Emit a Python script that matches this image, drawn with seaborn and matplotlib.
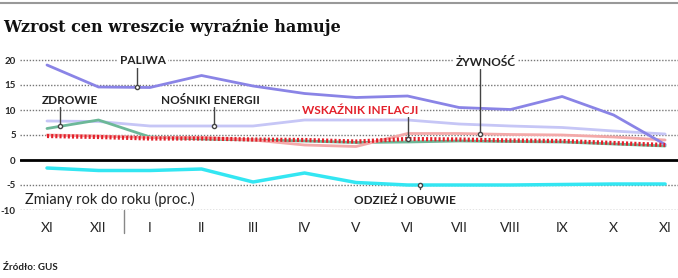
import numpy as np
import pandas as pd
import matplotlib.pyplot as plt
import seaborn as sns

# data (year-on-year change, %)
months = ["XI", "XII", "I", "II", "III", "IV", "V", "VI", "VII", "VIII", "IX", "X", "XI"]
paliwa = [19.0, 14.6, 14.5, 16.9, 14.8, 13.3, 12.5, 12.8, 10.5, 10.1, 12.7, 9.0, 3.1]
nosniki = [7.8, 7.7, 6.8, 6.8, 6.8, 8.0, 8.0, 8.0, 7.2, 6.8, 6.5, 5.8, 5.2]
zdrowie = [6.3, 8.0, 4.6, 4.2, 4.0, 3.8, 3.5, 3.6, 3.8, 3.7, 3.6, 3.2, 2.8]
zywnosc = [5.0, 4.8, 4.5, 4.5, 4.0, 3.0, 2.7, 5.3, 5.3, 5.1, 5.0, 4.6, 4.0]
inflacja = [4.8, 4.6, 4.3, 4.3, 4.1, 4.0, 3.7, 4.2, 4.1, 3.9, 3.8, 3.4, 3.0]
odziez = [-1.6, -2.1, -2.1, -1.8, -4.4, -2.6, -4.5, -5.0, -5.0, -5.0, -4.9, -4.8, -4.8]
yticks = [20, 15, 10, 5, 0, -5, -10]

x = np.arange(len(months))

sns.set_style("white")
plt.rcParams["font.family"] = ["Lato", "DejaVu Sans"]

fig = plt.figure(figsize=(6.78, 2.78), dpi=100)
ax = fig.add_axes([20 / 678, 68 / 278, 658 / 678, 160 / 278])

# grid
for h in yticks:
    if h == 0:
        ax.axhline(0, color="black", lw=2, zorder=1)
    else:
        ax.axhline(h, color="#777777", lw=1, ls=(0, (1, 1.2)), zorder=0)

# series
sns.lineplot(x=x, y=nosniki, ax=ax, color="#c6c6f6", lw=2, zorder=2)
sns.lineplot(x=x, y=zdrowie, ax=ax, color="#6cb898", lw=2, zorder=2)
sns.lineplot(x=x, y=zywnosc, ax=ax, color="#f3a9a9", lw=2, zorder=2)
sns.lineplot(x=x, y=paliwa, ax=ax, color="#8a84e6", lw=2, zorder=3)
sns.lineplot(x=x, y=odziez, ax=ax, color="#33e6f2", lw=2.5, zorder=3)
sns.lineplot(x=x, y=inflacja, ax=ax, color="#e3202a", lw=3, ls=(0, (0.5, 0.5)), zorder=4)

ax.set_xlim(-0.524, 12.25)
ax.set_ylim(-10, 22)

ax.set_yticks(yticks)
ax.set_yticklabels([str(t) for t in yticks], fontsize=7, fontweight="bold")
ax.set_xticks(x)
ax.set_xticklabels(months, fontsize=10)
ax.set_xticks(x[:-1] + 0.5, minor=True)
ax.tick_params(axis="x", which="major", length=0, pad=9)
ax.tick_params(axis="x", which="minor", direction="in", length=4, color="#777777", width=1)
ax.tick_params(axis="y", length=0, pad=3)
for s in ax.spines.values():
    s.set_visible(False)
ax.set_xlabel("")
ax.set_ylabel("")

# year separator
ax.plot([1.5, 1.5], [-10, -14.5], color="#888888", lw=1, clip_on=False)

# callouts
def callout(label, lx, ly, px, series, color="#222222", ytop=None):
    py = np.interp(px, x, series)
    ax.text(lx, ly, label, ha="center", va="center", fontsize=8.5,
            fontweight="bold", color=color, zorder=6,
            bbox=dict(boxstyle="square,pad=0.15", fc="white", ec="none"))
    ax.plot([px, px], [ytop, py], color="#444444", lw=1, zorder=5)
    ax.plot(px, py, "o", ms=3, mfc="white", mec="#444444", mew=1, zorder=5)

callout("PALIWA", 1.86, 19.8, 1.75, paliwa, ytop=18.6)
callout("ZDROWIE", 0.45, 12.0, 0.25, zdrowie, ytop=10.6)
callout("NOŚNIKI ENERGII", 3.17, 12.0, 3.24, nosniki, ytop=10.6)
callout("WSKAŹNIK INFLACJI", 6.08, 10.0, 7.0, inflacja, color="#e3202a", ytop=8.6)
callout("ŻYWNOŚĆ", 8.52, 19.6, 8.4, zywnosc, ytop=18.2)
callout("ODZIEŻ I OBUWIE", 6.95, -8.2, 7.24, odziez, ytop=-5.7)

ax.text(-0.43, -7.8, "Zmiany rok do roku (proc.)", ha="left", va="center",
        fontsize=10.5, color="#222222",
        bbox=dict(boxstyle="square,pad=0.1", fc="white", ec="none"))

# title, source, top rule
fig.add_artist(plt.Line2D([0, 1], [1 - 3 / 278, 1 - 3 / 278], color="#999999", lw=1.5))
fig.text(3 / 678, 1 - 28 / 278, "Wzrost cen wreszcie wyraźnie hamuje", fontsize=11.5,
         fontweight="bold", family="DejaVu Serif", va="center", ha="left", color="#111111")
fig.text(3 / 678, 1 - 268 / 278, "Źródło: GUS", fontsize=7, fontweight="bold",
         va="center", ha="left", color="#222222")

fig.savefig("out.png", dpi=100)
